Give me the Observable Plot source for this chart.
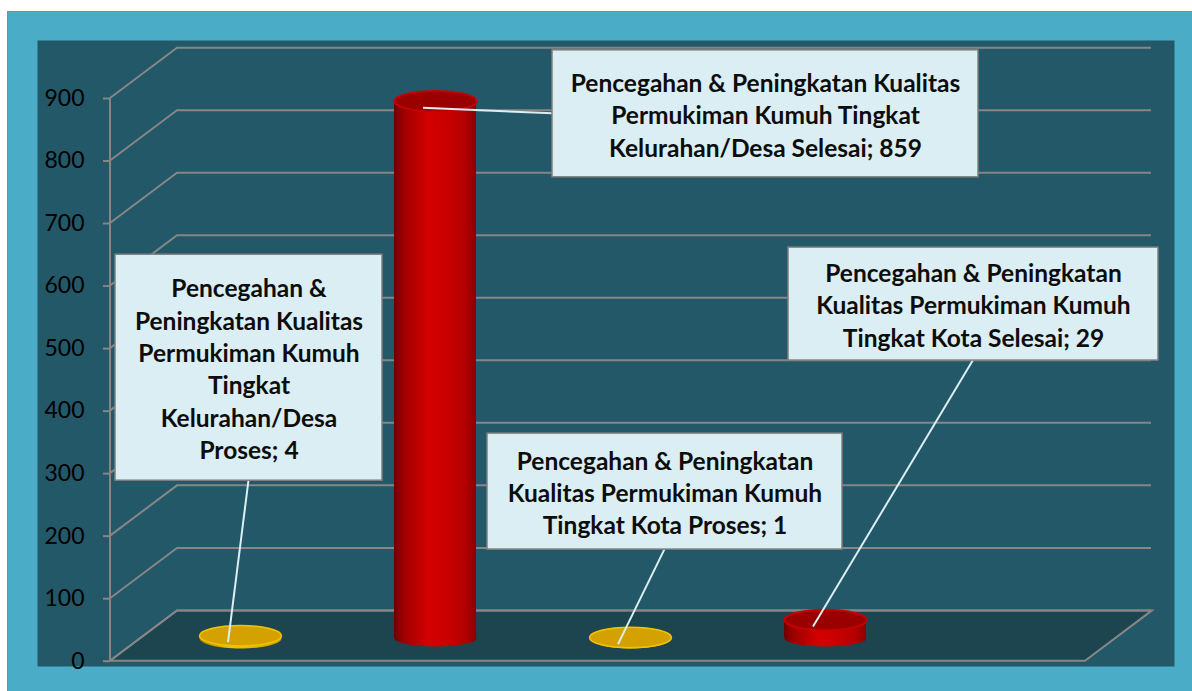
<!DOCTYPE html>
<html><head><meta charset="utf-8">
<script src="https://cdn.jsdelivr.net/npm/d3@7"></script>
<script src="https://cdn.jsdelivr.net/npm/@observablehq/plot@0.6"></script>
<style>
html,body{margin:0;padding:0;background:#fff;overflow:hidden;width:1192px;height:691px;}
#outer{position:absolute;left:7px;top:11px;width:1200px;height:700px;border:1px solid #8a8a8a;background:#4AACC6;}
#chart{position:absolute;left:0;top:0;}
</style></head><body><div id="outer"></div><div id="chart"></div>
<script>
// ---- data ----
const categories = [
  "Pencegahan & Peningkatan Kualitas Permukiman Kumuh Tingkat Kelurahan/Desa Proses",
  "Pencegahan & Peningkatan Kualitas Permukiman Kumuh Tingkat Kelurahan/Desa Selesai",
  "Pencegahan & Peningkatan Kualitas Permukiman Kumuh Tingkat Kota Proses",
  "Pencegahan & Peningkatan Kualitas Permukiman Kumuh Tingkat Kota Selesai"
];
const values = [4, 859, 1, 29];
const status = ["Proses", "Selesai", "Proses", "Selesai"];
const yTicks = [0, 100, 200, 300, 400, 500, 600, 700, 800, 900];

// ---- layout (pixels) ----
const axisX = 110, floorRight = 1085, backRight = 1151;
const depth = {dx: 67, dy: -50.3};
const barShift = -23;
const labelLayout = [
  {wrap: 20, cx: 8.5, cy: -268, w: 267, h: 226, attach: "bottom"},
  {wrap: 33, cx: 330, cy: 12.7, w: 426, h: 127, attach: "left"},
  {wrap: 25, cx: 34.5, cy: -146, w: 355, h: 116, attach: "bottom"},
  {wrap: 25, cx: 148, cy: -316, w: 370, h: 113, attach: "bottom"}
];

function wrap(s, n) {
  const words = s.split(" "); const lines = []; let cur = "";
  for (const w of words) {
    if (cur && (cur + " " + w).length > n) { lines.push(cur); cur = w; }
    else cur = cur ? cur + " " + w : w;
  }
  lines.push(cur);
  return lines.join("\n");
}

const rows = categories.map((c, i) => ({
  category: c, value: values[i], status: status[i],
  label: wrap(`${c}; ${values[i]}`, labelLayout[i].wrap)
}));
const selesai = rows.filter(d => d.status === "Selesai");
const proses = rows.filter(d => d.status === "Proses");

function ellipseSymbol(k) {
  return {draw(ctx, size) {
    const rx = Math.sqrt(size / Math.PI), ry = rx * k, kx = rx * 0.5523, ky = ry * 0.5523;
    ctx.moveTo(-rx, 0);
    ctx.bezierCurveTo(-rx, -ky, -kx, -ry, 0, -ry);
    ctx.bezierCurveTo(kx, -ry, rx, -ky, rx, 0);
    ctx.bezierCurveTo(rx, ky, kx, ry, 0, ry);
    ctx.bezierCurveTo(-kx, ry, -rx, ky, -rx, 0);
    ctx.closePath();
  }};
}

function defs() {
  const g = document.createElementNS("http://www.w3.org/2000/svg", "g");
  g.innerHTML = `<defs>
    <linearGradient id="gRed" x1="0" x2="1" y1="0" y2="0">
      <stop offset="0" stop-color="#6E0000"/><stop offset="0.12" stop-color="#A00000"/>
      <stop offset="0.42" stop-color="#D40000"/><stop offset="0.62" stop-color="#CC0000"/>
      <stop offset="0.88" stop-color="#B00000"/><stop offset="1" stop-color="#8A0000"/>
    </linearGradient>
    <linearGradient id="gGold" x1="0" x2="1" y1="0" y2="0">
      <stop offset="0" stop-color="#B08400"/><stop offset="0.4" stop-color="#F5C200"/>
      <stop offset="1" stop-color="#D09C00"/>
    </linearGradient>
  </defs>`;
  return g;
}

function structure(index, scales) {
  const y = scales.y;
  const g = d3.create("svg:g");
  const y0 = y(0);
  g.append("polygon")
    .attr("points", [[axisX, y0], [axisX + depth.dx, y0 + depth.dy], [floorRight + depth.dx, y0 + depth.dy], [floorRight, y0]].join(" "))
    .attr("fill", "#1D4550").attr("stroke", "#868686").attr("stroke-width", 2);
  for (const t of yTicks) {
    const yt = y(t);
    g.append("path")
      .attr("d", `M${axisX},${yt}L${axisX + depth.dx},${yt + depth.dy}H${backRight}`)
      .attr("fill", "none").attr("stroke", "#868686").attr("stroke-width", 2);
  }
  g.append("path").attr("d", `M${axisX},${y(d3.max(yTicks))}V${y0}`)
    .attr("stroke", "#868686").attr("stroke-width", 2);
  return g.node();
}

function callouts(index, scales) {
  const {x, y} = scales;
  let bw = x.bandwidth; bw = typeof bw === "function" ? bw() : (bw || 0);
  const g = d3.create("svg:g");
  rows.forEach((d, i) => {
    const L = labelLayout[i];
    const ax = x(d.category) + bw / 2, ay = y(d.value) + barShift;
    const bx = ax + L.cx, by = ay + L.cy;
    const ex = ax - 12, ey = ay + 7;
    const tx = L.attach === "left" ? bx - L.w / 2 : bx;
    const ty = L.attach === "left" ? by : by + L.h / 2;
    g.append("line").attr("x1", ex).attr("y1", ey).attr("x2", tx).attr("y2", ty)
      .attr("stroke", "#DAEEF3").attr("stroke-width", 2);
    g.append("rect").attr("x", bx - L.w / 2).attr("y", by - L.h / 2)
      .attr("width", L.w).attr("height", L.h)
      .attr("fill", "#DAEEF3").attr("stroke", "#7F7F7F").attr("stroke-width", 1.5);
  });
  return g.node();
}

const textMarks = rows.map((d, i) => Plot.text([d], {
  x: "category", y: "value", text: "label",
  dx: labelLayout[i].cx, dy: labelLayout[i].cy + barShift,
  fontSize: 24.5, fontWeight: 700, fontFamily: "Lato", fill: "#0d0d0d",
  lineHeight: 1.32, textAnchor: "middle"
}));

const chart = Plot.plot({
  width: 1192, height: 691,
  marginLeft: 37, marginTop: 40, marginRight: 18, marginBottom: 25,
  style: {background: "transparent", fontFamily: "Lato"},
  x: {type: "band", domain: categories, range: [142.5, 922.5], paddingInner: 0.58, paddingOuter: 0.29, axis: null},
  y: {domain: [0, 900], range: [660.7, 98]},
  marks: [
    defs,
    Plot.frame({fill: "#225868", stroke: null}),
    structure,
    Plot.dot(selesai, {x: "category", y: 0, dy: barShift, r: 41, symbol: ellipseSymbol(0.2), fill: "url(#gRed)"}),
    Plot.dot(proses, {x: "category", y: 0, dy: barShift, r: 41, symbol: ellipseSymbol(0.25), fill: "url(#gGold)"}),
    Plot.barY(selesai, {x: "category", y: "value", dy: barShift, fill: "url(#gRed)"}),
    Plot.barY(proses, {x: "category", y: "value", dy: barShift, fill: "url(#gGold)"}),
    Plot.dot(selesai, {x: "category", y: "value", dy: barShift, r: 41, symbol: ellipseSymbol(0.25), fill: "#9A0000", stroke: "#C40000", strokeWidth: 2}),
    Plot.dot(proses, {x: "category", y: "value", dy: barShift, r: 41, symbol: ellipseSymbol(0.25), fill: "#D4A200", stroke: "#F2C400", strokeWidth: 1.5}),
    callouts,
    ...textMarks,
    Plot.axisY({ticks: yTicks, anchor: "left", dx: axisX - 37, tickSize: 7, tickPadding: 19,
      fontSize: 23, fontFamily: "Lato", fill: "#000", stroke: "#868686", strokeWidth: 2, label: null})
  ]
});
document.getElementById("chart").appendChild(chart);
</script>
</body></html>
